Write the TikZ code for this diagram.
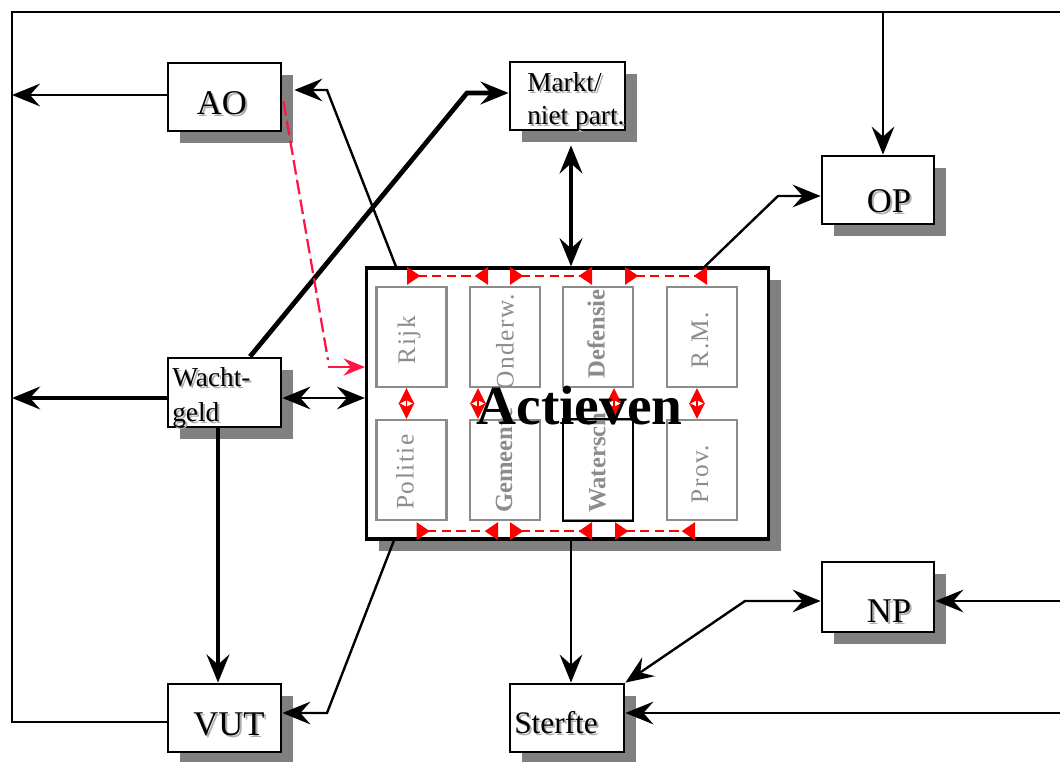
\documentclass[tikz,border=0pt]{standalone}
\usepackage{fontspec}
\setmainfont{Liberation Serif}
\usetikzlibrary{arrows.meta,shadows,calc}

\definecolor{rose}{RGB}{255,20,70}
\definecolor{shade}{RGB}{128,128,128}

% label with a light offset shadow behind the letters
\newcommand\tsh[1]{\leavevmode\rlap{\kern1.5pt\raisebox{-1.5pt}{\color{black!32}#1}}#1}

\begin{document}
\begin{tikzpicture}[x=0.75pt,y=-0.75pt,
  >={Stealth[length=21pt,width=17pt,inset=7.5pt]},
  sz/.style 2 args={minimum width={#1*0.75pt},minimum height={#2*0.75pt}},
  box/.style={draw,line width=2.1pt,fill=white,inner sep=0pt,
    drop shadow={shadow xshift=9pt,shadow yshift=-9pt,fill=shade,opacity=1}},
  inbox/.style={draw=black!45,line width=1.7pt,inner sep=0pt,sz={70}{100}},
  lbl/.style={inner sep=0pt,anchor=base,font=\fontsize{26}{28}\selectfont},
  lblm/.style={inner sep=0pt,anchor=base west,font=\fontsize{20.5}{22}\selectfont},
  itx/.style={inner sep=0pt,rotate=90,text=black!45,
    font=\fontsize{19}{20}\selectfont\addfontfeature{LetterSpace=6}},
  itb/.style={inner sep=0pt,rotate=90,text=black!45,
    font=\bfseries\fontsize{18.5}{20}\selectfont},
  ln/.style={line width=1.8pt},
  thk/.style={line width=3.6pt},
  rdash/.style={red,line width=1.9pt,dash pattern=on 7pt off 4pt,
    {Triangle[reversed,length=10pt,width=13pt]}-{Triangle[reversed,length=10pt,width=13pt]}},
  rdia/.style={red,line width=1.2pt,
    {Stealth[length=12pt,width=12pt,inset=3pt]}-{Stealth[length=12pt,width=12pt,inset=3pt]}},
]
\useasboundingbox (0,0) rectangle (1060,762);

% outer frame and free line ends
\coordinate (tl) at (12,12);
\coordinate (bl) at (12,722);
\coordinate (tr) at (1060,12);
\coordinate (opin) at (883,12);
\coordinate (npin) at (1060,601);
\coordinate (stin) at (1060,713);

% boxes
\node[box,sz={113}{68}] (AO) at (224.5,97) {};
\node[box,sz={115}{68}] (MK) at (567.5,96) {};
\node[box,sz={112}{68}] (OP) at (878,190) {};
\node[box,sz={113}{69}] (WG) at (224.5,392.5) {};
\node[box,sz={113}{68}] (VUT) at (224.5,718) {};
\node[box,sz={114}{68}] (ST) at (567,718) {};
\node[box,sz={112}{70}] (NP) at (878,597) {};
\node[box,line width=2.4pt,sz={402}{271}] (ACT) at (567.5,403.5) {};

% sectors inside the active box
\node[inbox] (R1) at (411.5,337) {};
\node[inbox] (R2) at (505,337) {};
\node[inbox] (R3) at (598,337) {};
\node[inbox] (R4) at (702,337) {};
\node[inbox] (S1) at (411.5,470) {};
\node[inbox] (S2) at (505,470) {};
\node[inbox] (S3) at (598,470) {};
\node[inbox] (S4) at (702,470) {};

% red transfers between sectors
\draw[rdash] ($(R1.north)+(-4.5,-10)$) -- ($(R2.north)+(-17,-10)$);
\draw[rdash] ($(R2.north)+(5,-10)$) -- ($(R3.north)+(-6,-10)$);
\draw[rdash] ($(R3.north)+(27,-10)$) -- ($(R4.north)+(5,-10)$);
\draw[rdash] ($(S1.south)+(5,10)$) -- ($(S2.south)+(-7,10)$);
\draw[rdash] ($(S2.south)+(5,10)$) -- ($(S3.south)+(-6,10)$);
\draw[rdash] ($(S3.south)+(17,10)$) -- ($(S4.south)+(-7,10)$);
\draw[rdia] ($(R1.south)+(-5,0)$) -- ($(S1.north)+(-5,0)$);
\draw[rdia] ($(R2.south)+(-27,0)$) -- ($(S2.north)+(-27,0)$);
\draw[rdia] ($(R3.south)+(16,0)$) -- ($(S3.north)+(16,0)$);
\draw[rdia] ($(R4.south)+(-5,0)$) -- ($(S4.north)+(-5,0)$);

% sector names
\node[itx] (tR1) at (409,340) {Rijk};
\node[itx] (tR2) at (505,341.5) {Onderw.};
\node[itb] (tR3) at (596,334) {Defensie};
\node[itx] (tR4) at (700,340) {R.M.};
\node[itx] (tS1) at (405,472) {Politie};
\node[itb,anchor=west] (tS2) at (504,513) {Gemeente};
\node[itb,anchor=west] (tS3) at (597,513) {Watersch};
\node[itx] (tS4) at (700,474) {Prov.};
\node[draw,line width=1.9pt,sz={70}{102}] (S3b) at (598,470) {};

\node[inner sep=0pt,anchor=base,font=\bfseries\fontsize{41.5}{44}\selectfont] (tACT) at (579.5,425) {Actieven};

% box labels
\node[lbl] (tAO) at (222,115) {\tsh{AO}};
\node[lbl] (tOP) at (889,213) {\tsh{OP}};
\node[lbl] (tNP) at (889,622) {\tsh{NP}};
\node[lbl] (tVUT) at (229,735) {\tsh{VUT}};
\node[inner sep=0pt,anchor=base west,font=\fontsize{23.5}{25}\selectfont] (tST) at (514,733) {\tsh{Sterfte}};
\node[lblm] (tMK1) at (527,92) {\tsh{Markt/}};
\node[lblm] (tMK2) at (527,125) {\tsh{niet part.}};
\node[lblm] (tWG1) at (172,387) {\tsh{Wacht-}};
\node[lblm] (tWG2) at (172,422) {\tsh{geld}};

% flows
\draw[ln] (tr) -- (tl) -- (bl) -- (VUT.west |- bl);
\draw[ln,->] (opin) -- (opin |- OP.north);
\draw[ln,->] (AO.west |- 0,95) -- (tl |- 0,95);
\draw[thk,->] (WG.west |- 0,398) -- (tl |- 0,398);
\draw[ln,<->] (WG.east |- 0,398) -- (ACT.west |- 0,398);
\draw[thk,->] (WG.south -| 218,0) -- (VUT.north -| 218,0);
\draw[thk,->] ($(WG.north)+(25.5,0)$) -- (467,93) -- (MK.west |- 0,93);
\draw[thk,<->] ($(MK.south)+(3.5,14)$) -- (ACT.north -| 571,0);
\draw[ln,->] ($(ACT.north west)+(31,0)$) -- (327,90) -- ($(AO.east)+(12,-7)$);
\draw[ln,->] ($(ACT.north west)+(340,0)$) -- (778,196) -- (OP.west |- 0,196);
\draw[ln,->] ($(ACT.south west)+(29,0)$) -- (327,713) -- (VUT.east |- 0,713);
\draw[ln,->] (ACT.south -| 571,0) -- (ST.north -| 571,0);
\draw[ln,<->] (NP.west |- 0,601) -- (745,601) -- (ST.north east);
\draw[ln,->] (npin) -- (NP.east |- npin);
\draw[ln,->] (stin) -- (ST.east |- stin);

% disability to active, dashed
\coordinate (rbend) at (328,360);
\coordinate (rstart) at (328,367);
\draw[rose,line width=1.7pt,dash pattern=on 11pt off 4pt] ($(AO.east)+(1,4)$) -- (rbend);
\draw[rose,line width=1.7pt,-{Stealth[length=16pt,width=13pt,inset=5.5pt]}] (rstart) -- (ACT.west |- rstart);
\end{tikzpicture}
\end{document}
